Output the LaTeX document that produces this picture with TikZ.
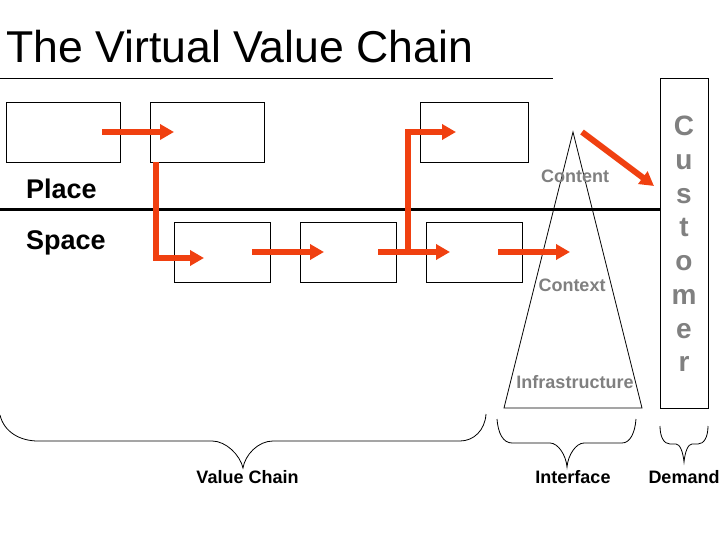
\documentclass[tikz,border=0pt]{standalone}
\usepackage{fontspec}
\setmainfont{Liberation Sans}
\usetikzlibrary{arrows.meta}
\definecolor{flow}{HTML}{F04010}
\definecolor{greytext}{HTML}{808080}
\tikzset{
  chainbox/.style={draw=black,line width=0.9pt,minimum height=60pt,inner sep=0pt,outer sep=0pt},
  wide/.style={chainbox,minimum width=114pt},
  narrow/.style={chainbox,minimum width=96pt},
  flowarrow/.style={draw=flow,line width=6pt,-{Triangle[length=14pt,width=15pt]}},
  brace/.style={draw=black,line width=0.8pt},
  thin rule/.style={draw=black,line width=0.9pt},
  heavy rule/.style={draw=black,line width=3pt},
  sidelabel/.style={font=\fontsize{27}{27}\selectfont\bfseries,anchor=base west,inner sep=0pt},
  layerlabel/.style={font=\fontsize{18}{18}\selectfont\bfseries,text=greytext,anchor=base,inner sep=0pt},
  bracelabel/.style={font=\fontsize{18}{18}\selectfont\bfseries,anchor=base,inner sep=0pt},
}
\begin{document}
\begin{tikzpicture}[x=1pt,y=-1pt]
\useasboundingbox (0,0) rectangle (720,540);
\fill[white] (0,0) rectangle (720,540);

\node[anchor=base west,inner sep=0pt,font=\fontsize{44.6}{45}\selectfont] (title) at (6,62.5) {The Virtual Value Chain};
\coordinate (titleL) at (0,78);
\coordinate (titleR) at (553,78);
\draw[thin rule] (titleL) -- (titleR);

% boxes
\node[wide] (p1) at (63,132) {};
\node[wide] (p2) at (207,132) {};
\node[chainbox,minimum width=108pt] (p3) at (474,132) {};
\node[narrow] (s1) at (222,252) {};
\node[narrow] (s2) at (348,252) {};
\node[narrow] (s3) at (474,252) {};

% customer
\node[draw=black,line width=0.9pt,minimum width=48pt,minimum height=330pt,inner sep=0pt,outer sep=0pt] (cust) at (684,243) {};
\node[font=\fontsize{28}{33.7}\selectfont\bfseries,text=greytext,align=center,inner sep=0pt] (custtext) at (684,244) {C\\u\\s\\t\\o\\m\\e\\r};

% divider
\coordinate (divL) at (0,210);
\draw[heavy rule] (divL) -- (cust.west |- divL);

% triangle
\coordinate (apex) at (573,132);
\coordinate (baseL) at (504,408);
\coordinate (baseR) at (642,408);
\draw[line width=0.8pt] (baseL) -- (apex) -- (baseR) -- cycle;

% labels
\node[sidelabel] (place) at (26,199) {Place};
\node[sidelabel] (space) at (26,249) {Space};
\node[layerlabel] (content) at (575,183) {Content};
\node[layerlabel] (context) at (572,291) {Context};
\node[layerlabel] (infra) at (575,388) {Infrastructure};
\node[bracelabel] (vc) at (247.5,483) {Value Chain};
\node[bracelabel] (ifc) at (573,483) {Interface};
\node[bracelabel] (dem) at (684,483) {Demand};

% arrows
\coordinate (a1s) at (102,132);
\coordinate (a1e) at (174,132);
\draw[flowarrow] (a1s) -- (a1e);
\coordinate (a2e) at (204,258);
\draw[flowarrow] (156,162) |- (a2e);
\coordinate (a3s) at (252,252);
\coordinate (a3e) at (324,252);
\draw[flowarrow] (a3s) -- (a3e);
\coordinate (a4s) at (378,252);
\coordinate (a4e) at (450,252);
\draw[flowarrow] (a4s) -- (a4e);
\coordinate (a5s) at (408,252);
\coordinate (a5e) at (456,132);
\draw[flowarrow] (a5s) |- (a5e);
\coordinate (a6s) at (498,252);
\coordinate (a6e) at (570,252);
\draw[flowarrow] (a6s) -- (a6e);
\coordinate (a7s) at (582,132);
\coordinate (a7e) at (654,186);
\draw[flowarrow] (a7s) -- (a7e);

% braces
\draw[brace] (0,415) .. controls (4,432) and (20,441) .. (38,441) -- (212,441)
  .. controls (226,441) and (240,455) .. (243,468)
  .. controls (245,455) and (258,441) .. (273,441) -- (460,441)
  .. controls (474,441) and (485,430) .. (486,414);
\draw[brace] (497,419) .. controls (498,433) and (503,443) .. (512,443) -- (550,443)
  .. controls (558,443) and (566,455) .. (567,467)
  .. controls (568,455) and (576,443) .. (584,443) -- (622,443)
  .. controls (630,443) and (635,433) .. (636,419);
\draw[brace] (660,426) .. controls (660,437) and (664,444) .. (670,444) -- (676,444)
  .. controls (680,444) and (683,452) .. (684,462)
  .. controls (685,452) and (688,444) .. (692,444) -- (698,444)
  .. controls (704,444) and (708,437) .. (708,426);
\end{tikzpicture}
\end{document}
